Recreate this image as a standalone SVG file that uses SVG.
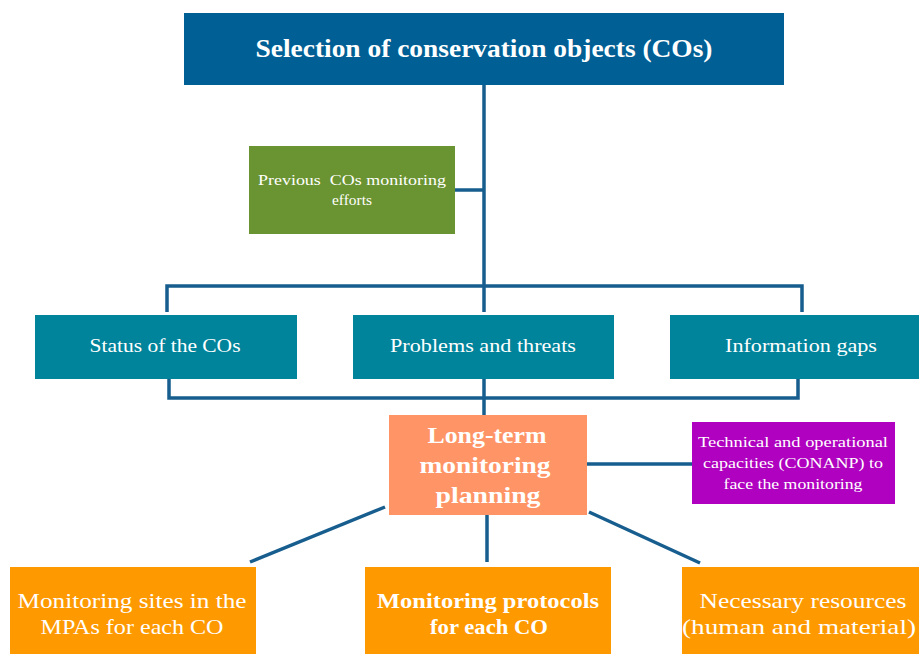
<svg xmlns="http://www.w3.org/2000/svg" width="919" height="654" viewBox="0 0 919 654">
<style>
.t{font-family:"Liberation Serif","DejaVu Serif",serif;fill:#fff;text-anchor:middle}
.c{stroke:#175e8f;stroke-width:3.5;fill:none}
</style>
<rect width="919" height="654" fill="#fff"/>
<g id="connectors">
<path class="c" d="M484 85V312"/>
<path class="c" d="M455 190H484"/>
<path class="c" d="M167 312V286H802V312"/>
<path class="c" d="M169 379V398H798V379"/>
<path class="c" d="M484 379V415"/>
<path class="c" d="M587 464H692"/>
<path class="c" d="M385 507L250 562"/>
<path class="c" d="M487 515V562"/>
<path class="c" d="M589 512L700 563"/>
</g>
<g id="n1"><rect x="184" y="13" width="600" height="72" fill="#005f94"/>
<text class="t" x="484" y="57" font-size="26" font-weight="bold" textLength="457" lengthAdjust="spacingAndGlyphs">Selection of conservation objects (COs)</text></g>
<g id="n2"><rect x="249" y="146" width="206" height="88" fill="#6a9431"/>
<text class="t" font-size="15" xml:space="preserve"><tspan x="352" y="185" textLength="188" lengthAdjust="spacingAndGlyphs">Previous  COs monitoring</tspan><tspan x="352" y="205" textLength="40" lengthAdjust="spacingAndGlyphs">efforts</tspan></text></g>
<g id="n3"><rect x="35" y="315" width="262" height="64" fill="#00849b"/>
<text class="t" x="165" y="352" font-size="19.5" textLength="151" lengthAdjust="spacingAndGlyphs">Status of the COs</text></g>
<g id="n4"><rect x="353" y="315" width="261" height="64" fill="#00849b"/>
<text class="t" x="483" y="352" font-size="19.5" textLength="186" lengthAdjust="spacingAndGlyphs">Problems and threats</text></g>
<g id="n5"><rect x="670" y="315" width="249" height="64" fill="#00849b"/>
<text class="t" x="801" y="352" font-size="19.5" textLength="152" lengthAdjust="spacingAndGlyphs">Information gaps</text></g>
<g id="n6"><rect x="389" y="415" width="198" height="100" fill="#ff9566"/>
<text class="t" font-size="24" font-weight="bold"><tspan x="487" y="443" textLength="119" lengthAdjust="spacingAndGlyphs">Long-term</tspan><tspan x="485" y="473" textLength="131" lengthAdjust="spacingAndGlyphs">monitoring</tspan><tspan x="488" y="503" textLength="105" lengthAdjust="spacingAndGlyphs">planning</tspan></text></g>
<g id="n7"><rect x="692" y="422" width="203" height="82" fill="#b000c0"/>
<text class="t" font-size="14.5"><tspan x="793" y="447" textLength="190" lengthAdjust="spacingAndGlyphs">Technical and operational</tspan><tspan x="793" y="468" textLength="180" lengthAdjust="spacingAndGlyphs">capacities (CONANP) to</tspan><tspan x="793" y="489" textLength="139" lengthAdjust="spacingAndGlyphs">face the monitoring</tspan></text></g>
<g id="n8"><rect x="10" y="567" width="246" height="87" fill="#ff9900"/>
<text class="t" font-size="21.5"><tspan x="132" y="608" textLength="229" lengthAdjust="spacingAndGlyphs">Monitoring sites in the</tspan><tspan x="132" y="634" textLength="183" lengthAdjust="spacingAndGlyphs">MPAs for each CO</tspan></text></g>
<g id="n9"><rect x="365" y="567" width="246" height="87" fill="#ff9900"/>
<text class="t" font-size="21.5" font-weight="bold"><tspan x="488" y="608" textLength="222" lengthAdjust="spacingAndGlyphs">Monitoring protocols</tspan><tspan x="489" y="634" textLength="118" lengthAdjust="spacingAndGlyphs">for each CO</tspan></text></g>
<g id="n10"><rect x="682" y="567" width="237" height="87" fill="#ff9900"/>
<text class="t" font-size="21.5"><tspan x="803" y="608" textLength="207" lengthAdjust="spacingAndGlyphs">Necessary resources</tspan><tspan x="799" y="634" textLength="234" lengthAdjust="spacingAndGlyphs">(human and material)</tspan></text></g>
</svg>
